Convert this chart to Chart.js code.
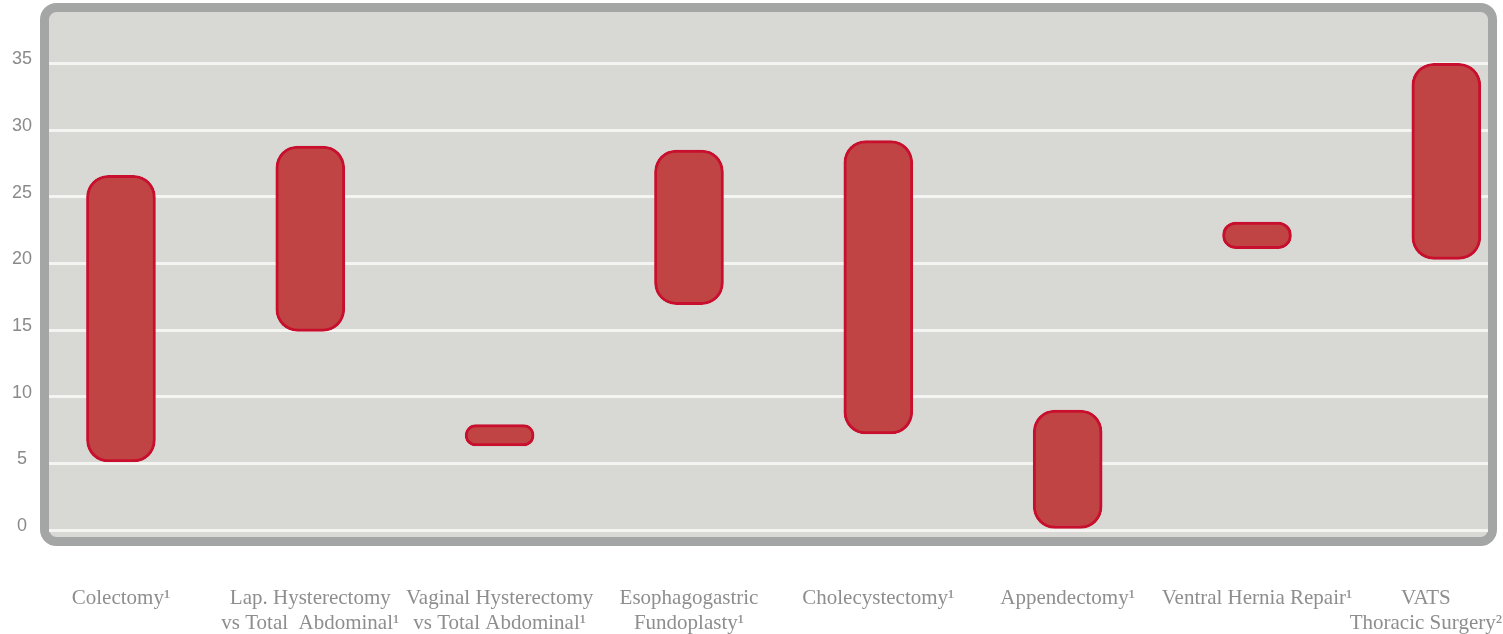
<!DOCTYPE html>
<html>
<head>
<meta charset="utf-8">
<script src="https://cdn.jsdelivr.net/npm/chart.js@4/dist/chart.umd.min.js"></script>
<style>
  html, body { margin: 0; padding: 0; background: #ffffff; }
  #wrap { width: 1503px; height: 634px; }
</style>
</head>
<body>
<div id="wrap"><canvas id="c" width="1503" height="634"></canvas></div>
<script>
// Procedures (multi-line labels), with their reference notes as superscripts
const categories = [
  ['Colectomy¹'],
  ['Lap. Hysterectomy', 'vs Total  Abdominal¹'],
  ['Vaginal Hysterectomy', 'vs Total Abdominal¹'],
  ['Esophagogastric', 'Fundoplasty¹'],
  ['Cholecystectomy¹'],
  ['Appendectomy¹'],
  ['Ventral Hernia Repair¹'],
  ['VATS', 'Thoracic Surgery²']
];

// Range of each procedure: low and high ends
const lowValues  = [5.1, 14.9, 6.3, 16.9, 7.2, 0.0, 21.1, 20.3];
const highValues = [26.6, 28.8, 7.9, 28.5, 29.2, 9.0, 23.1, 35.0];

// Value-axis tick labels
const yTicks = [0, 5, 10, 15, 20, 25, 30, 35];

const rangeData = categories.map((_, i) => ({ x: i, y: [lowValues[i], highValues[i]] }));

// Rounded grey panel behind the plot
const panelPlugin = {
  id: 'panel',
  beforeDraw(chart) {
    const ctx = chart.ctx;
    ctx.save();
    ctx.beginPath();
    ctx.roundRect(44.5, 7.5, 1448, 534, 12);
    ctx.fillStyle = '#d8d8d4';
    ctx.fill();
    ctx.lineWidth = 9;
    ctx.strokeStyle = '#a3a6a4';
    ctx.stroke();
    ctx.restore();
  }
};

// Category labels below the panel, centred under each bar and kept on the canvas
const categoryLabelPlugin = {
  id: 'categoryLabels',
  afterDraw(chart) {
    const ctx = chart.ctx;
    const xs = chart.scales.x;
    ctx.save();
    ctx.font = '21px "Liberation Serif", "Times New Roman", serif';
    ctx.fillStyle = '#8e8e8e';
    ctx.textAlign = 'center';
    ctx.textBaseline = 'middle';
    categories.forEach((lines, i) => {
      let cx = xs.getPixelForValue(i);
      const w = Math.max(...lines.map(l => ctx.measureText(l).width));
      const maxX = chart.width - 1;
      if (cx + w / 2 > maxX) cx = maxX - w / 2;
      if (cx - w / 2 < 1) cx = 1 + w / 2;
      lines.forEach((line, k) => {
        ctx.fillText(line, cx, 598 + k * 25);
      });
    });
    ctx.restore();
  }
};

new Chart(document.getElementById('c'), {
  type: 'bar',
  data: {
    datasets: [{
      data: rangeData,
      backgroundColor: '#c04444',
      borderColor: '#c8102e',
      borderWidth: 3,
      borderSkipped: false,
      borderRadius: 22,
      barThickness: 69
    }]
  },
  options: {
    responsive: false,
    animation: false,
    layout: { padding: { left: 0, right: 15, top: 12, bottom: 99 } },
    plugins: {
      legend: { display: false },
      tooltip: { enabled: false }
    },
    scales: {
      x: {
        type: 'linear',
        min: -0.38,
        max: 7.22,
        offset: false,
        bounds: 'data',
        display: false
      },
      y: {
        min: -0.375,
        max: 38.85,
        bounds: 'data',
        afterFit(scale) {
          scale.width = 49;
          scale.paddingTop = 0;
          scale.paddingBottom = 0;
        },
        afterBuildTicks(scale) { scale.ticks = yTicks.map(v => ({ value: v })); },
        grid: {
          color: '#f4f4f2',
          lineWidth: 3,
          drawTicks: false
        },
        border: { display: false },
        ticks: {
          crossAlign: 'center',
          padding: 17,
          labelOffset: -4,
          color: '#8a8a8a',
          font: { family: '"Liberation Sans", Arial, sans-serif', size: 18 }
        }
      }
    }
  },
  plugins: [panelPlugin, categoryLabelPlugin]
});
</script>
</body>
</html>
